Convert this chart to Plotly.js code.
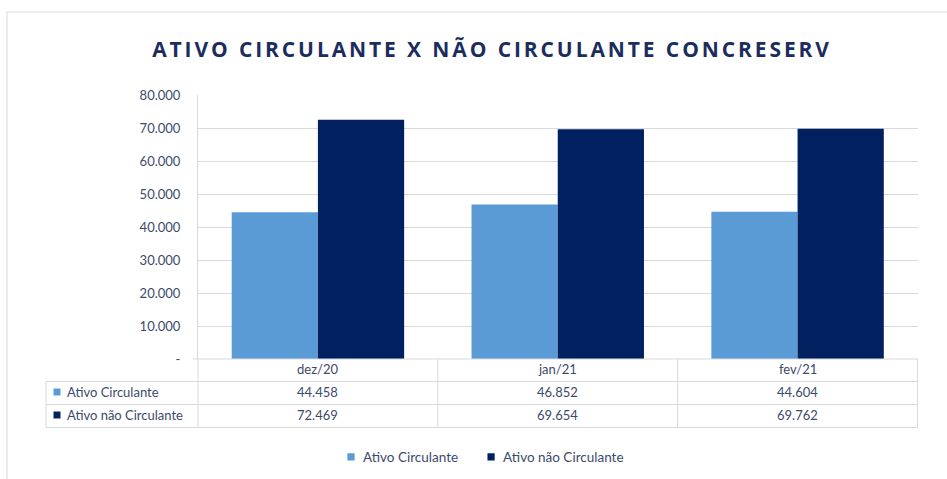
<!DOCTYPE html>
<html>
<head>
<meta charset="utf-8">
<script src="https://cdn.plot.ly/plotly-3.0.1.min.js"></script>
<style>
  html, body { margin: 0; padding: 0; background: #ffffff; }
  #chart { width: 947px; height: 479px; }
  .gtitle { letter-spacing: 2.9px; }
  .legend .legendpoints path { transform: translate(28px, 0px) scale(0.6) !important; }
</style>
</head>
<body>
<div id="chart"></div>
<script>
// ---- data ----
const categories = ["dez/20", "jan/21", "fev/21"];
const seriesNames = ["Ativo Circulante", "Ativo não Circulante"];
const ativoCirculante = [44458, 46852, 44604];
const ativoNaoCirculante = [72469, 69654, 69762];
const tickVals = [0, 10000, 20000, 30000, 40000, 50000, 60000, 70000, 80000];
const tickText = ["-", "10.000", "20.000", "30.000", "40.000", "50.000", "60.000", "70.000", "80.000"];
const chartTitle = "ATIVO CIRCULANTE X NÃO CIRCULANTE CONCRESERV";

// ---- style ----
const colors = ["#5b9bd5", "#002060"];
const textColor = "#3b4a6b";
const lineColor = "#d9d9d9";
const W = 947, H = 479;
const M = { l: 198, r: 29, t: 95, b: 120 };
const PW = W - M.l - M.r, PH = H - M.t - M.b;
const px = x => (x - M.l) / PW;           // pixel -> paper x
const py = y => (H - M.b - y) / PH;        // pixel -> paper y
const fmt = v => String(v).replace(/\B(?=(\d{3})+(?!\d))/g, ".");

const seriesValues = [ativoCirculante, ativoNaoCirculante];

const traces = seriesValues.map((vals, i) => ({
  type: "bar",
  name: seriesNames[i],
  x: categories,
  y: vals,
  marker: { color: colors[i] },
  hoverinfo: "x+y+name"
}));

// table rows (pixel geometry)
const headerY = 369, rowY = [392, 415];
const lineTop = 359, row1Top = 381.5, row2Top = 404.5, tableBottom = 427.5;

const shapes = [];
const line = (x0, y0, x1, y1, xref) => shapes.push({
  type: "line", xref: xref || "paper", yref: "paper",
  x0, y0, x1, y1, line: { color: lineColor, width: 1 }, layer: "above"
});
// frame
line(px(7), py(12), px(947), py(12));
line(px(7), py(12), px(7), py(479));
// table horizontals
line(px(193), py(lineTop), px(918), py(lineTop));
line(px(46), py(row1Top), px(918), py(row1Top));
line(px(46), py(row2Top), px(918), py(row2Top));
line(px(46), py(tableBottom), px(918), py(tableBottom));
// table verticals
line(px(46), py(row1Top), px(46), py(tableBottom));
line(px(198), py(lineTop), px(198), py(tableBottom));
for (let k = 0; k < categories.length; k++) {
  shapes.push({
    type: "line", xref: "x", yref: "paper",
    x0: k + 0.5, x1: k + 0.5, y0: py(lineTop), y1: py(tableBottom),
    line: { color: lineColor, width: 1 }, layer: "above"
  });
}
// legend keys in table
seriesNames.forEach((n, i) => {
  shapes.push({
    type: "rect", xref: "paper", yref: "paper",
    x0: px(53.5), x1: px(60.5), y0: py(rowY[i] - 3.5), y1: py(rowY[i] + 3.5),
    fillcolor: colors[i], line: { width: 0 }, layer: "above"
  });
});

const annFont = { family: "Lato, 'Open Sans', sans-serif", size: 13, color: textColor };
const annotations = [];
categories.forEach((c, k) => {
  annotations.push({ xref: "x", yref: "paper", x: k, y: py(headerY), text: c,
    showarrow: false, font: annFont, xanchor: "center", yanchor: "middle" });
  seriesValues.forEach((vals, i) => {
    annotations.push({ xref: "x", yref: "paper", x: k, y: py(rowY[i]), text: fmt(vals[k]),
      showarrow: false, font: annFont, xanchor: "center", yanchor: "middle" });
  });
});
seriesNames.forEach((n, i) => {
  annotations.push({ xref: "paper", yref: "paper", x: px(65), y: py(rowY[i]), text: n,
    showarrow: false, font: annFont, xanchor: "left", yanchor: "middle" });
});

const layout = {
  width: W, height: H,
  margin: M,
  paper_bgcolor: "#ffffff",
  plot_bgcolor: "#ffffff",
  barmode: "group",
  bargap: 0.281,
  bargroupgap: 0,
  title: {
    text: "<b>" + chartTitle + "</b>",
    xref: "container", x: 492 / W, xanchor: "center",
    yref: "container", y: 1 - 50 / H, yanchor: "middle",
    font: { family: "'Open Sans', Lato, sans-serif", size: 21, color: "#1b2d5e" }
  },
  xaxis: {
    type: "category",
    showticklabels: false,
    showgrid: false,
    zeroline: false,
    showline: false,
    ticks: "",
    fixedrange: true
  },
  yaxis: {
    range: [0, 80000],
    tickvals: tickVals,
    ticktext: tickText,
    showgrid: true,
    gridcolor: lineColor,
    gridwidth: 1,
    zeroline: false,
    showline: true,
    linecolor: lineColor,
    linewidth: 1,
    ticks: "",
    ticklabelstandoff: 14,
    tickfont: { family: "Lato, 'Open Sans', sans-serif", size: 13, color: textColor },
    fixedrange: true
  },
  showlegend: true,
  legend: {
    orientation: "h",
    xref: "container", x: 476 / W, xanchor: "center",
    yref: "container", y: 1 - 457 / H, yanchor: "middle",
    font: { family: "Lato, 'Open Sans', sans-serif", size: 13.5, color: textColor },
    itemwidth: 30,
    tracegroupgap: 0,
    bgcolor: "rgba(0,0,0,0)"
  },
  shapes: shapes,
  annotations: annotations,
  hovermode: "closest"
};

Plotly.newPlot("chart", traces, layout, { displayModeBar: false, responsive: false });
</script>
</body>
</html>
